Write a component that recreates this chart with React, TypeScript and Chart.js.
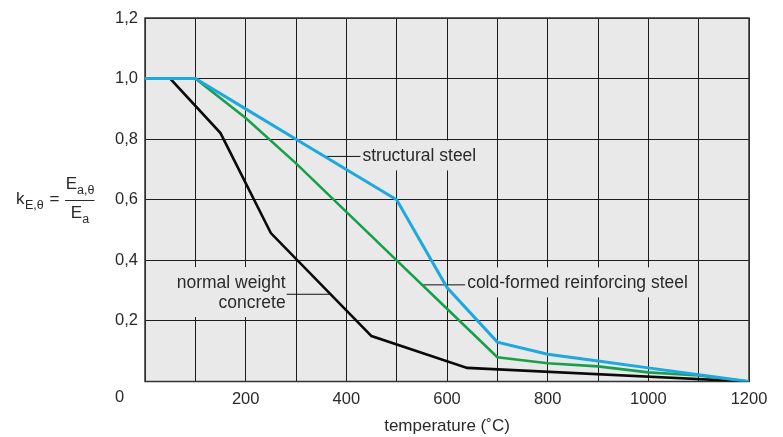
import React, { useEffect, useRef } from 'react';
import { Chart, registerables } from 'chart.js';

Chart.register(...registerables);

// ---- data ----
const steelTemps = [0, 100, 200, 300, 400, 500, 600, 700, 800, 900, 1000, 1100, 1200];
const structuralSteel = [1, 1, 0.9, 0.8, 0.7, 0.6, 0.31, 0.13, 0.09, 0.0675, 0.045, 0.0225, 0];
const coldFormedSteel = [1, 1, 0.87, 0.72, 0.56, 0.4, 0.24, 0.08, 0.06, 0.05, 0.03, 0.02, 0];
const concreteTemps = [0, 50, 150, 250, 450, 640, 1200];
const concreteValues = [1, 1, 0.82, 0.49, 0.15, 0.045, 0];
const xTickLabels = [200, 400, 600, 800, 1000, 1200];
const yTickLabels = [0.2, 0.4, 0.6, 0.8, 1.0, 1.2];
const seriesNames = ['structural steel', 'cold-formed reinforcing steel', 'normal weight concrete'];
const xTitle = 'temperature (˚C)';

const FONT = "'Liberation Sans', Arial, sans-serif";
const TEXT = '#2a2a2a';
const PLOT_BG = '#e9e9e9';

const toPts = (xs: number[], ys: number[]) => xs.map((x, i) => ({ x, y: ys[i] }));

const decorPlugin = {
  id: 'decor',
  beforeDraw(chart: any) {
    const { ctx, chartArea: a } = chart;
    ctx.save();
    ctx.fillStyle = '#ffffff';
    ctx.fillRect(0, 0, chart.width, chart.height);
    ctx.fillStyle = PLOT_BG;
    ctx.fillRect(a.left, a.top, a.right - a.left, a.bottom - a.top);
    ctx.restore();
  },
  beforeDatasetsDraw(chart: any) {
    const { ctx, chartArea: a, scales } = chart;
    const xs = scales.x;
    const ys = scales.y;
    const px = (v: number) => xs.getPixelForValue(v);
    const py = (v: number) => ys.getPixelForValue(v);
    ctx.save();
    ctx.font = `17.5px ${FONT}`;
    ctx.textBaseline = 'middle';

    const drawLabel = (
      lines: string[],
      anchorX: number,
      firstY: number,
      lineGap: number,
      align: 'left' | 'right',
      leader: [number, number, number, number]
    ) => {
      const w = Math.max(...lines.map((l) => ctx.measureText(l).width));
      const left = align === 'left' ? anchorX - 3 : anchorX - w - 3;
      const top = firstY - 16;
      const bottom = firstY + lineGap * (lines.length - 1) + 14;
      ctx.fillStyle = PLOT_BG;
      ctx.fillRect(left, top, w + 6, bottom - top);
      ctx.fillStyle = TEXT;
      ctx.textAlign = align;
      lines.forEach((l, i) => ctx.fillText(l, anchorX, firstY + i * lineGap));
      ctx.strokeStyle = '#111';
      ctx.lineWidth = 1;
      ctx.beginPath();
      ctx.moveTo(leader[0], leader[1]);
      ctx.lineTo(leader[2], leader[3]);
      ctx.stroke();
    };

    // structural steel
    const sY = py(0.743);
    drawLabel([seriesNames[0]], px(432), sY, 0, 'left', [px(356), sY, px(428), sY]);
    // cold-formed reinforcing steel
    const cY = py(0.319);
    drawLabel([seriesNames[1]], px(640), cY - 1.5, 0, 'left', [px(548), cY, px(636), cY]);
    // normal weight concrete
    const nY = py(0.288);
    drawLabel(['normal weight', 'concrete'], px(279.5), py(0.325), 20, 'right', [px(281.5), nY, px(366), nY]);

    // plot border
    ctx.strokeStyle = '#333';
    ctx.lineWidth = 1.5;
    ctx.strokeRect(a.left, a.top, a.right - a.left, a.bottom - a.top);
    ctx.restore();
  },
  afterDraw(chart: any) {
    const { ctx, chartArea: a } = chart;
    ctx.save();
    ctx.fillStyle = TEXT;
    // origin label
    ctx.font = `16.5px ${FONT}`;
    ctx.textAlign = 'center';
    ctx.textBaseline = 'middle';
    ctx.fillText('0', a.left - 25.5, a.bottom + 15.5);

    // y-axis formula  k_{E,θ} = E_{a,θ} / E_a
    const big = `17px ${FONT}`;
    const small = `12.5px ${FONT}`;
    const baseY = 203.5;
    ctx.textAlign = 'left';
    ctx.textBaseline = 'alphabetic';
    ctx.font = big;
    ctx.fillText('k', 16, baseY);
    const kw = ctx.measureText('k').width;
    ctx.font = small;
    ctx.fillText('E,θ', 16 + kw + 0.5, baseY + 5.5);
    ctx.font = big;
    ctx.fillText('=', 49.5, baseY + 0.5);
    // fraction
    const cx = 80;
    ctx.strokeStyle = TEXT;
    ctx.lineWidth = 1;
    ctx.beginPath();
    ctx.moveTo(65, 200.5);
    ctx.lineTo(94.5, 200.5);
    ctx.stroke();
    const drawEsub = (sub: string, by: number) => {
      ctx.font = big;
      const ew = ctx.measureText('E').width;
      ctx.font = small;
      const sw = ctx.measureText(sub).width;
      const start = cx - (ew + sw) / 2;
      ctx.font = big;
      ctx.fillText('E', start, by);
      ctx.font = small;
      ctx.fillText(sub, start + ew, by + 5);
    };
    drawEsub('a,θ', 189);
    drawEsub('a', 218);
    ctx.restore();
  },
};

export default function App() {
  const ref = useRef<HTMLCanvasElement | null>(null);
  useEffect(() => {
    document.body.style.margin = '0';
    const canvas = ref.current!;
    const chart = new Chart(canvas, {
      type: 'line',
      data: {
        datasets: [
          {
            label: seriesNames[0],
            data: toPts(steelTemps, structuralSteel),
            borderColor: '#1ea8e0',
            borderWidth: 3,
            pointRadius: 0,
            tension: 0,
            fill: false,
          },
          {
            label: seriesNames[1],
            data: toPts(steelTemps, coldFormedSteel),
            borderColor: '#17a04b',
            borderWidth: 2.6,
            pointRadius: 0,
            tension: 0,
            fill: false,
          },
          {
            label: seriesNames[2],
            data: toPts(concreteTemps, concreteValues),
            borderColor: '#0a0a0a',
            borderWidth: 2.6,
            pointRadius: 0,
            tension: 0,
            fill: false,
          },
        ],
      },
      options: {
        responsive: false,
        animation: false,
        devicePixelRatio: 1,
        layout: { padding: { left: 0, right: 34, top: 18, bottom: 0 } },
        plugins: { legend: { display: false }, tooltip: { enabled: false } },
        scales: {
          x: {
            type: 'linear',
            min: 0,
            max: 1200,
            afterFit: (s: any) => {
              s.height = 55.5;
            },
            ticks: {
              stepSize: 100,
              autoSkip: false,
              maxRotation: 0,
              padding: 8,
              color: TEXT,
              font: { family: FONT, size: 16.5 },
              callback: (v: any) => (xTickLabels.includes(Number(v)) ? String(v) : ''),
            },
            grid: { color: '#1c1c1c', lineWidth: 1, drawTicks: false },
            border: { display: false },
            title: {
              display: true,
              text: xTitle,
              color: TEXT,
              font: { family: FONT, size: 17 },
              padding: { top: 0, bottom: 0 },
            },
          },
          y: {
            type: 'linear',
            min: 0,
            max: 1.2,
            afterFit: (s: any) => {
              s.width = 145;
            },
            ticks: {
              stepSize: 0.2,
              padding: 7,
              color: TEXT,
              font: { family: FONT, size: 16.5 },
              callback: (v: any) => {
                const n = Number(v);
                return yTickLabels.some((t) => Math.abs(t - n) < 1e-6) ? n.toFixed(1).replace('.', ',') : '';
              },
            },
            grid: { color: '#1c1c1c', lineWidth: 1, drawTicks: false },
            border: { display: false },
          },
        },
      },
      plugins: [decorPlugin],
    } as any);
    return () => chart.destroy();
  }, []);
  return <canvas ref={ref} width={783} height={437} style={{ display: 'block' }} />;
}
